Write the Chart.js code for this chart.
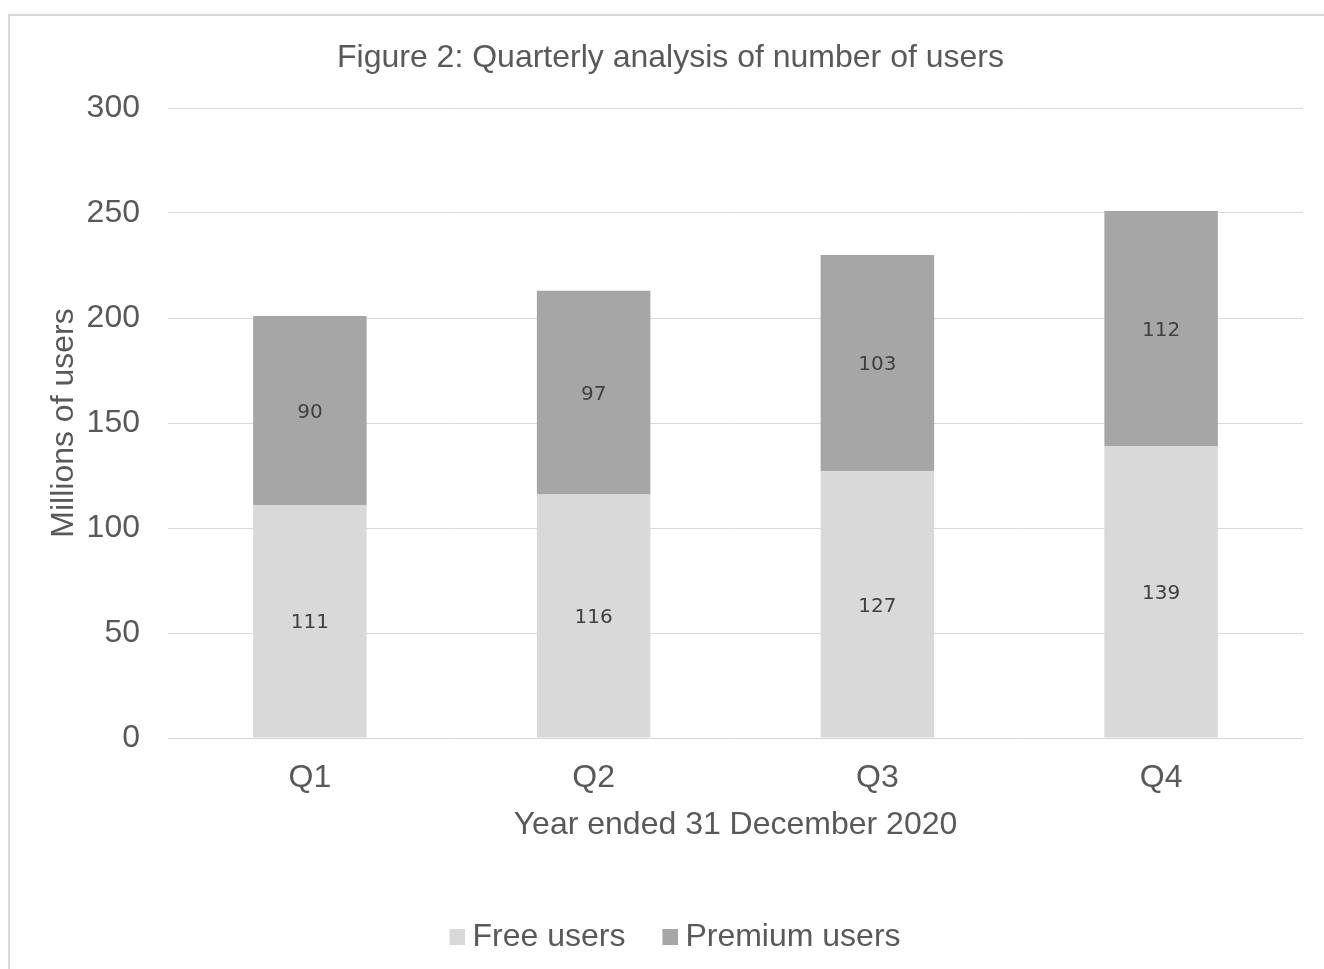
<!DOCTYPE html>
<html>
<head>
<meta charset="utf-8">
<script src="https://cdn.jsdelivr.net/npm/chart.js@4"></script>
<style>
  html, body { margin: 0; padding: 0; background: #ffffff; overflow: hidden; }
  body { width: 1324px; height: 969px; position: relative; }
  #frame { position: absolute; left: 8px; top: 14px; width: 1340px; height: 1000px;
           border: 2px solid #d9d9d9; box-sizing: border-box; }
  #wrap { position: absolute; left: 10px; top: 16px; width: 1321px; height: 953px; }
</style>
</head>
<body>
<div id="frame"></div>
<div id="wrap"><canvas id="c" width="1321" height="953"></canvas></div>
<script>
const categories = ["Q1", "Q2", "Q3", "Q4"];
const freeUsers = [111, 116, 127, 139];
const premiumUsers = [90, 97, 103, 112];
const seriesNames = ["Free users", "Premium users"];
const chartTitle = "Figure 2: Quarterly analysis of number of users";
const yAxisTitle = "Millions of users";
const xAxisTitle = "Year ended 31 December 2020";
const yTickMin = 0, yTickMax = 300, yTickStep = 50;

const TEXT = "#595959";
const ARIAL = "'Liberation Sans', Arial, sans-serif";
const COLORS = ["#d9d9d9", "#a6a6a6"];

// legend swatch drawn a little closer to its text, as in the reference
function swatch(color) {
  const c = document.createElement("canvas");
  c.width = 34; c.height = 16;
  const g = c.getContext("2d");
  g.fillStyle = color;
  g.fillRect(18, 0, 16, 16);
  return c;
}
const swatches = COLORS.map(swatch);

const segmentLabels = {
  id: "segmentLabels",
  afterDatasetsDraw(chart) {
    const ctx = chart.ctx;
    ctx.save();
    ctx.font = "20px 'DejaVu Sans', sans-serif";
    ctx.fillStyle = "#404040";
    ctx.textAlign = "center";
    ctx.textBaseline = "middle";
    chart.data.datasets.forEach((ds, di) => {
      const meta = chart.getDatasetMeta(di);
      meta.data.forEach((bar, i) => {
        const p = bar.getProps(["x", "y", "base"], true);
        ctx.fillText(String(ds.data[i]), p.x, (p.y + p.base) / 2 + 2);
      });
    });
    ctx.restore();
  }
};

new Chart(document.getElementById("c"), {
  type: "bar",
  data: {
    labels: categories,
    datasets: [
      { label: seriesNames[0], data: freeUsers, backgroundColor: COLORS[0],
        categoryPercentage: 1, barPercentage: 0.4 },
      { label: seriesNames[1], data: premiumUsers, backgroundColor: COLORS[1],
        categoryPercentage: 1, barPercentage: 0.4 }
    ]
  },
  options: {
    responsive: false,
    animation: false,
    layout: { padding: { left: 0, right: 0, top: 0, bottom: 6 } },
    plugins: {
      tooltip: { enabled: false },
      title: {
        display: true, text: chartTitle, color: TEXT,
        font: { family: ARIAL, size: 32, weight: "normal" },
        padding: { top: 23.3, bottom: 30.3 }
      },
      legend: {
        position: "bottom",
        labels: {
          color: TEXT, font: { family: ARIAL, size: 32 },
          boxWidth: 16, boxHeight: 16, padding: 28,
          usePointStyle: true,
          generateLabels(chart) {
            const items = Chart.defaults.plugins.legend.labels.generateLabels(chart);
            items.forEach((it, i) => { it.pointStyle = swatches[i]; });
            return items;
          }
        }
      }
    },
    scales: {
      x: {
        stacked: true,
        grid: { display: false }, border: { display: false },
        ticks: { color: TEXT, font: { family: ARIAL, size: 32 }, padding: 13 },
        title: { display: true, text: xAxisTitle, color: TEXT,
                 font: { family: ARIAL, size: 32 }, padding: { top: 0, bottom: 49 } },
        afterFit(s) { s.height = 155; }
      },
      y: {
        stacked: true,
        min: yTickMin, max: yTickMax,
        grid: { color: "#d9d9d9", lineWidth: 1, drawTicks: false },
        border: { display: false },
        ticks: { stepSize: yTickStep, color: TEXT, font: { family: ARIAL, size: 32 }, padding: 28 },
        title: { display: true, text: yAxisTitle, color: TEXT,
                 font: { family: ARIAL, size: 32 }, padding: { top: 34.8, bottom: 0 } },
        afterFit(s) { s.width = 158; }
      },
      spacer: {
        type: "linear", position: "right", display: true,
        grid: { display: false }, border: { display: false },
        ticks: { display: false }, title: { display: false },
        afterFit(s) { s.width = 28; }
      }
    }
  },
  plugins: [segmentLabels]
});
</script>
</body>
</html>
